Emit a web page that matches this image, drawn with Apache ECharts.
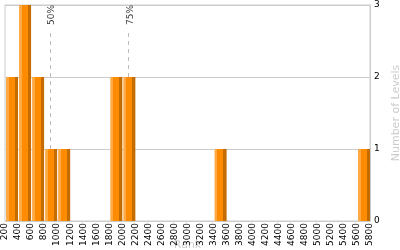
<!DOCTYPE html>
<html><head><meta charset="utf-8">
<script src="https://cdn.jsdelivr.net/npm/echarts@6/dist/echarts.min.js"></script>
<style>html,body{margin:0;padding:0;background:#fff}#c{width:400px;height:250px}</style>
</head><body><div id="c"></div>
<script>
var binStarts = [200, 400, 600, 800, 1000, 1800, 2000, 3400, 5600];
var binWidth = 200;
var levelCounts = [2, 3, 2, 1, 1, 2, 2, 1, 1];
var percentileNames = ['50%', '75%'];
var percentileRanks = [890, 2090];
var xMin = 200, xMax = 5800, xStep = 200;
var yMin = 0, yMax = 3, yStep = 1;

var font = 'DejaVu Sans';
var chart = echarts.init(document.getElementById('c'), null, {renderer: 'canvas'});
var data = binStarts.map(function (s, i) { return [s, s + binWidth, levelCounts[i]]; });
function makeGrad() {
  return new echarts.graphic.LinearGradient(0, 0, 1, 0, [
    {offset: 0, color: '#FFAA44'}, {offset: 0.24, color: '#FFAA44'},
    {offset: 0.24, color: '#FF8C00'}, {offset: 0.74, color: '#FF8C00'},
    {offset: 0.74, color: '#C46C00'}, {offset: 1, color: '#C46C00'}
  ]);
}
chart.setOption({
  animation: false,
  grid: {left: 5, right: 30, top: 5, bottom: 29, show: true, borderColor: '#ccc', borderWidth: 1, containLabel: false, outerBoundsMode: 'none'},
  xAxis: {
    type: 'value', min: xMin, max: xMax, interval: xStep,
    name: 'Rank', nameLocation: 'middle', nameGap: 19, nameMoveOverlap: false,
    nameTextStyle: {color: '#ccc', fontFamily: font, fontSize: 11},
    axisLine: {show: true, lineStyle: {color: '#ccc'}},
    axisTick: {show: false},
    splitLine: {show: false},
    axisLabel: {rotate: 90, fontFamily: font, fontSize: 9, color: '#000', margin: 2, hideOverlap: false,
      showMinLabel: true, showMaxLabel: true, formatter: function (v) { return String(v); }}
  },
  yAxis: {
    type: 'value', position: 'right', min: yMin, max: yMax, interval: yStep,
    name: 'Number of Levels', nameLocation: 'middle', nameGap: 18, nameRotate: 90,
    nameTextStyle: {color: '#ccc', fontFamily: font, fontSize: 11},
    axisLine: {show: true, lineStyle: {color: '#ccc'}},
    axisTick: {show: false},
    splitLine: {show: true, lineStyle: {color: '#ccc'}},
    axisLabel: {fontFamily: font, fontSize: 9, color: '#000', margin: 4}
  },
  series: [{
    type: 'scatter',
    z: 1,
    symbolSize: 0,
    data: percentileRanks.map(function (r, i) { return {value: [r, yMax], name: percentileNames[i]}; }),
    label: {
      show: true, formatter: function (p) { return p.name; }, rotate: 90,
      position: 'inside', align: 'right', verticalAlign: 'middle', offset: [0, 2],
      fontFamily: font, fontSize: 9, color: '#000'
    },
    markLine: {
      silent: true, symbol: 'none', z: 1,
      lineStyle: {type: [4, 4], color: '#bbb', width: 1, opacity: 1},
      emphasis: {disabled: true},
      label: {show: false},
      data: percentileRanks.map(function (r) { return [{coord: [r, yMin]}, {coord: [r, 2.65]}]; })
    }
  }, {
    type: 'custom',
    z: 5,
    data: data,
    renderItem: function (params, api) {
      var p0 = api.coord([api.value(0), 0]);
      var p1 = api.coord([api.value(1), api.value(2)]);
      return {
        type: 'rect',
        shape: {x: p0[0] + 1, y: p1[1], width: p1[0] - p0[0] - 1, height: p0[1] - p1[1]},
        style: {fill: makeGrad()}
      };
    }
  }]
});
</script></body></html>
